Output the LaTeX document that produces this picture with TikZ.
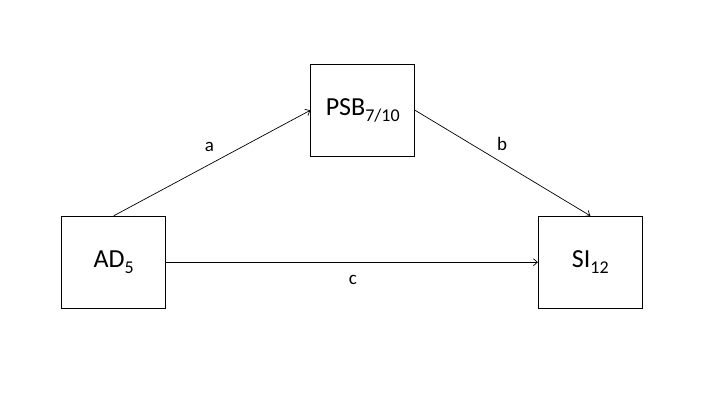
\documentclass[tikz,border=0pt]{standalone}
\usepackage{fontspec}
\setmainfont{Carlito}
\usetikzlibrary{arrows.meta}
\newcommand{\mysub}[1]{\raisebox{-5.5pt}{\fontsize{18}{18}\selectfont #1}}
\begin{document}
\begin{tikzpicture}[x=1pt,y=-1pt,
  varbox/.style={draw=black, line width=0.8pt, minimum width=104pt, minimum height=92pt, inner sep=0pt, font=\fontsize{26}{28}\selectfont},
  lbl/.style={font=\fontsize{19}{21}\selectfont, inner sep=0pt},
  conn/.style={line width=0.7pt, -{Straight Barb[length=4pt,width=7pt]}}]
\useasboundingbox (0,0) rectangle (720,405);
\node[varbox] (AD) at (113.7,262.2) {AD\mysub{5}};
\node[varbox] (PSB) at (362.7,110.3) {PSB\mysub{7/10}};
\node[varbox] (SI) at (590.3,262.2) {SI\mysub{12}};
\draw[conn] (AD.north) -- (PSB.west);
\draw[conn] (PSB.east) -- (SI.north);
\draw[conn] (AD.east) -- (SI.west);
\node[lbl] (la) at (209.5,147) {a};
\node[lbl] (lb) at (502,144) {b};
\node[lbl] (lc) at (353,280) {c};
\end{tikzpicture}
\end{document}
